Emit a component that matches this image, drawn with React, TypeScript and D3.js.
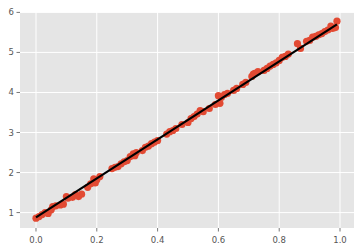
import React from "react";
import * as d3 from "d3";

const xValues = [0.00,0.01,0.02,0.03,0.04,0.05,0.055,0.065,0.08,0.09,0.10,0.105,0.12,0.13,0.14,0.15,0.17,0.18,0.19,0.195,0.20,0.21,0.25,0.26,0.27,0.28,0.29,0.30,0.31,0.32,0.325,0.33,0.35,0.36,0.37,0.38,0.39,0.40,0.43,0.44,0.45,0.46,0.48,0.50,0.51,0.52,0.53,0.54,0.55,0.57,0.59,0.60,0.605,0.61,0.62,0.63,0.65,0.66,0.68,0.69,0.71,0.715,0.72,0.73,0.75,0.76,0.77,0.78,0.79,0.80,0.81,0.82,0.83,0.86,0.87,0.89,0.90,0.91,0.92,0.93,0.94,0.95,0.96,0.97,0.975,0.985,0.99];
const yValues = [0.86,0.90,0.95,1.00,0.98,1.07,1.15,1.17,1.19,1.21,1.40,1.36,1.38,1.45,1.40,1.46,1.63,1.72,1.84,1.74,1.82,1.90,2.10,2.13,2.15,2.22,2.27,2.30,2.40,2.47,2.42,2.50,2.55,2.63,2.66,2.72,2.76,2.80,2.96,3.02,3.05,3.10,3.20,3.25,3.35,3.40,3.46,3.55,3.52,3.60,3.70,3.92,3.73,3.88,3.95,3.98,4.05,4.10,4.20,4.25,4.40,4.46,4.48,4.52,4.55,4.60,4.66,4.70,4.74,4.80,4.88,4.90,4.96,5.22,5.10,5.28,5.30,5.38,5.40,5.44,5.47,5.52,5.56,5.66,5.60,5.62,5.78];

const fitX = [0.0, 0.99];
const fitY = [0.88, 5.70];

const xTicks = [0.0, 0.2, 0.4, 0.6, 0.8, 1.0];
const yTicks = [1, 2, 3, 4, 5, 6];

export default function App() {
  const W = 364, H = 250;
  const left = 20, right = 354, top = 12, bottom = 228;
  const x = d3.scaleLinear().domain([-0.0526, 1.046]).range([left, right]);
  const y = d3.scaleLinear().domain([0.615, 6.01]).range([bottom, top]);
  const line = d3.line<number>().x((_, i) => x(fitX[i])).y((d) => y(d));
  const font = "'DejaVu Sans', sans-serif";
  return (
    <svg width={W} height={H} style={{ position: "absolute", left: 0, top: 0 }}>
      <rect x={left} y={top} width={right - left} height={bottom - top} fill="#E5E5E5" />
      {xTicks.map((t) => (
        <line key={"gx" + t} x1={x(t)} x2={x(t)} y1={top} y2={bottom} stroke="#fff" strokeWidth={1} />
      ))}
      {yTicks.map((t) => (
        <line key={"gy" + t} x1={left} x2={right} y1={y(t)} y2={y(t)} stroke="#fff" strokeWidth={1} />
      ))}
      {xValues.map((xv, i) => (
        <circle key={"p" + i} cx={x(xv)} cy={y(yValues[i])} r={3.6} fill="#E24A33" />
      ))}
      <path d={line(fitY) || ""} fill="none" stroke="#000" strokeWidth={2.2} />
      {xTicks.map((t) => (
        <g key={"tx" + t}>
          <line x1={x(t)} x2={x(t)} y1={bottom} y2={bottom + 3.5} stroke="#555" strokeWidth={0.8} />
          <text x={x(t)} y={bottom + 15} fontSize={8.5} fill="#555" textAnchor="middle" fontFamily={font}>
            {t.toFixed(1)}
          </text>
        </g>
      ))}
      {yTicks.map((t) => (
        <g key={"ty" + t}>
          <line x1={left - 3.5} x2={left} y1={y(t)} y2={y(t)} stroke="#555" strokeWidth={0.8} />
          <text x={left - 6} y={y(t) + 3} fontSize={8.5} fill="#555" textAnchor="end" fontFamily={font}>
            {t}
          </text>
        </g>
      ))}
    </svg>
  );
}
